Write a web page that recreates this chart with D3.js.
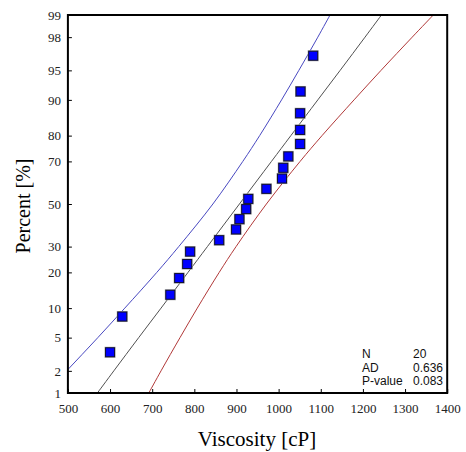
<!DOCTYPE html>
<html><head><meta charset="utf-8">
<script src="https://cdn.jsdelivr.net/npm/d3@7"></script>
<style>body{margin:0;background:#fff}</style>
</head><body>
<svg id="c" width="466" height="452"></svg>
<script>
// Data
const viscosity = [600, 629, 743, 764, 783, 790, 859, 899, 907, 923, 928, 971, 1008, 1011, 1023, 1051, 1051, 1051, 1052, 1082];
const percent   = [3.4, 8.3, 13.2, 18.1, 23.0, 27.9, 32.8, 37.7, 42.6, 47.5, 52.5, 57.4, 62.3, 67.2, 72.1, 77.0, 81.9, 86.8, 91.7, 96.6];
const bandPercents = [1, 2, 5, 10, 20, 30, 50, 70, 80, 90, 95, 98, 99];
const fitLine   = [570, 609, 668, 721, 785, 831, 907, 983, 1029, 1093, 1146, 1205, 1244];
const upperBand = [447, 497, 571, 635, 711, 763, 844, 915, 955, 1007, 1048, 1093, 1122];
const lowerBand = [692, 721, 766, 807, 859, 899, 971, 1051, 1103, 1179, 1243, 1317, 1367];
const xTicks = [500, 600, 700, 800, 900, 1000, 1100, 1200, 1300, 1400];
const yTicks = [1, 2, 5, 10, 20, 30, 50, 70, 80, 90, 95, 98, 99];
const statLabels = ["N", "AD", "P-value"];
const statValues = ["20", "0.636", "0.083"];

// inverse normal CDF (probability-scale transform)
function probit(p){
  const a=[-3.969683028665376e+01,2.209460984245205e+02,-2.759285104469687e+02,1.383577518672690e+02,-3.066479806614716e+01,2.506628277459239e+00];
  const b=[-5.447609879822406e+01,1.615858368580409e+02,-1.556989798598866e+02,6.680131188771972e+01,-1.328068155288572e+01];
  const c=[-7.784894002430293e-03,-3.223964580411365e-01,-2.400758277161838e+00,-2.549732969366779e+00,4.374664141464968e+00,2.938163982698783e+00];
  const d=[7.784695709041462e-03,3.224671290700398e-01,2.445134137142996e+00,3.754408661907416e+00];
  const pl=0.02425;
  let q,r;
  if(p<pl){q=Math.sqrt(-2*Math.log(p));return (((((c[0]*q+c[1])*q+c[2])*q+c[3])*q+c[4])*q+c[5])/((((d[0]*q+d[1])*q+d[2])*q+d[3])*q+1);}
  if(p<=1-pl){q=p-0.5;r=q*q;return (((((a[0]*r+a[1])*r+a[2])*r+a[3])*r+a[4])*r+a[5])*q/(((((b[0]*r+b[1])*r+b[2])*r+b[3])*r+b[4])*r+1);}
  q=Math.sqrt(-2*Math.log(1-p));return -(((((c[0]*q+c[1])*q+c[2])*q+c[3])*q+c[4])*q+c[5])/((((d[0]*q+d[1])*q+d[2])*q+d[3])*q+1);
}

const L=67.9, R=447.2, T=15, B=393;
const svg=d3.select("#c");
const x=d3.scaleLinear().domain([500,1400]).range([L,R]);
const zy=d3.scaleLinear().domain([probit(0.01),probit(0.99)]).range([B,T]);
const y=p=>zy(probit(p/100));

svg.append("defs").append("clipPath").attr("id","clip")
  .append("rect").attr("x",L).attr("y",T).attr("width",R-L).attr("height",B-T);

const g=svg.append("g").attr("clip-path","url(#clip)");
const line=d3.line().x(d=>x(d[0])).y(d=>y(d[1])).curve(d3.curveCatmullRom);
function drawBand(vals,color){
  g.append("path").datum(vals.map((v,i)=>[v,bandPercents[i]]))
   .attr("d",line).attr("fill","none").attr("stroke",color).attr("stroke-width",1);
}
drawBand(upperBand,"#4848c0");
drawBand(fitLine,"#505050");
drawBand(lowerBand,"#b03838");

// markers
const pts=viscosity.map((v,i)=>[v,percent[i]]);
const s=9;
g.selectAll("rect.sh").data(pts).join("rect")
  .attr("x",d=>x(d[0])-s/2-1).attr("y",d=>y(d[1])-s/2-1).attr("width",s+2).attr("height",s+2)
  .attr("fill","#a0a0a0");
g.selectAll("rect.pt").data(pts).join("rect")
  .attr("x",d=>x(d[0])-s/2).attr("y",d=>y(d[1])-s/2).attr("width",s).attr("height",s)
  .attr("fill","#0000ff").attr("stroke","#101030").attr("stroke-width",1);

// axes
const font="'Liberation Serif','Times New Roman',serif";
const xa=svg.append("g").attr("transform",`translate(0,${B})`)
  .call(d3.axisBottom(x).tickValues(xTicks).tickSizeInner(-4).tickSizeOuter(0).tickPadding(11).tickFormat(d3.format("d")));
const ya=svg.append("g").attr("transform",`translate(${L},0)`)
  .call(d3.axisLeft(zy).tickValues(yTicks.map(p=>probit(p/100))).tickSizeInner(-4).tickSizeOuter(0).tickPadding(7)
  .tickFormat((d,i)=>yTicks[i]));
[xa,ya].forEach(a=>{
  a.selectAll("text").attr("font-family",font).attr("font-size",13).attr("fill","#222");
  a.selectAll("line").attr("stroke","#000");
  a.select(".domain").remove();
});

svg.append("rect").attr("x",L).attr("y",T).attr("width",R-L).attr("height",B-T)
  .attr("fill","none").attr("stroke","#000").attr("stroke-width",2);

svg.append("text").attr("x",257).attr("y",446).attr("text-anchor","middle")
  .attr("font-family",font).attr("font-size",21).text("Viscosity [cP]");
svg.append("text").attr("transform","translate(30,206) rotate(-90)").attr("text-anchor","middle")
  .attr("font-family",font).attr("font-size",20).text("Percent [%]");

// stats box
const sf="'Liberation Sans',Arial,sans-serif";
statLabels.forEach((t,i)=>{
  svg.append("text").attr("x",362).attr("y",358+i*13.7).attr("font-family",sf).attr("font-size",12).attr("fill","#111").text(t);
  svg.append("text").attr("x",413).attr("y",358+i*13.7).attr("font-family",sf).attr("font-size",12).attr("fill","#111").text(statValues[i]);
});
</script>
</body></html>
